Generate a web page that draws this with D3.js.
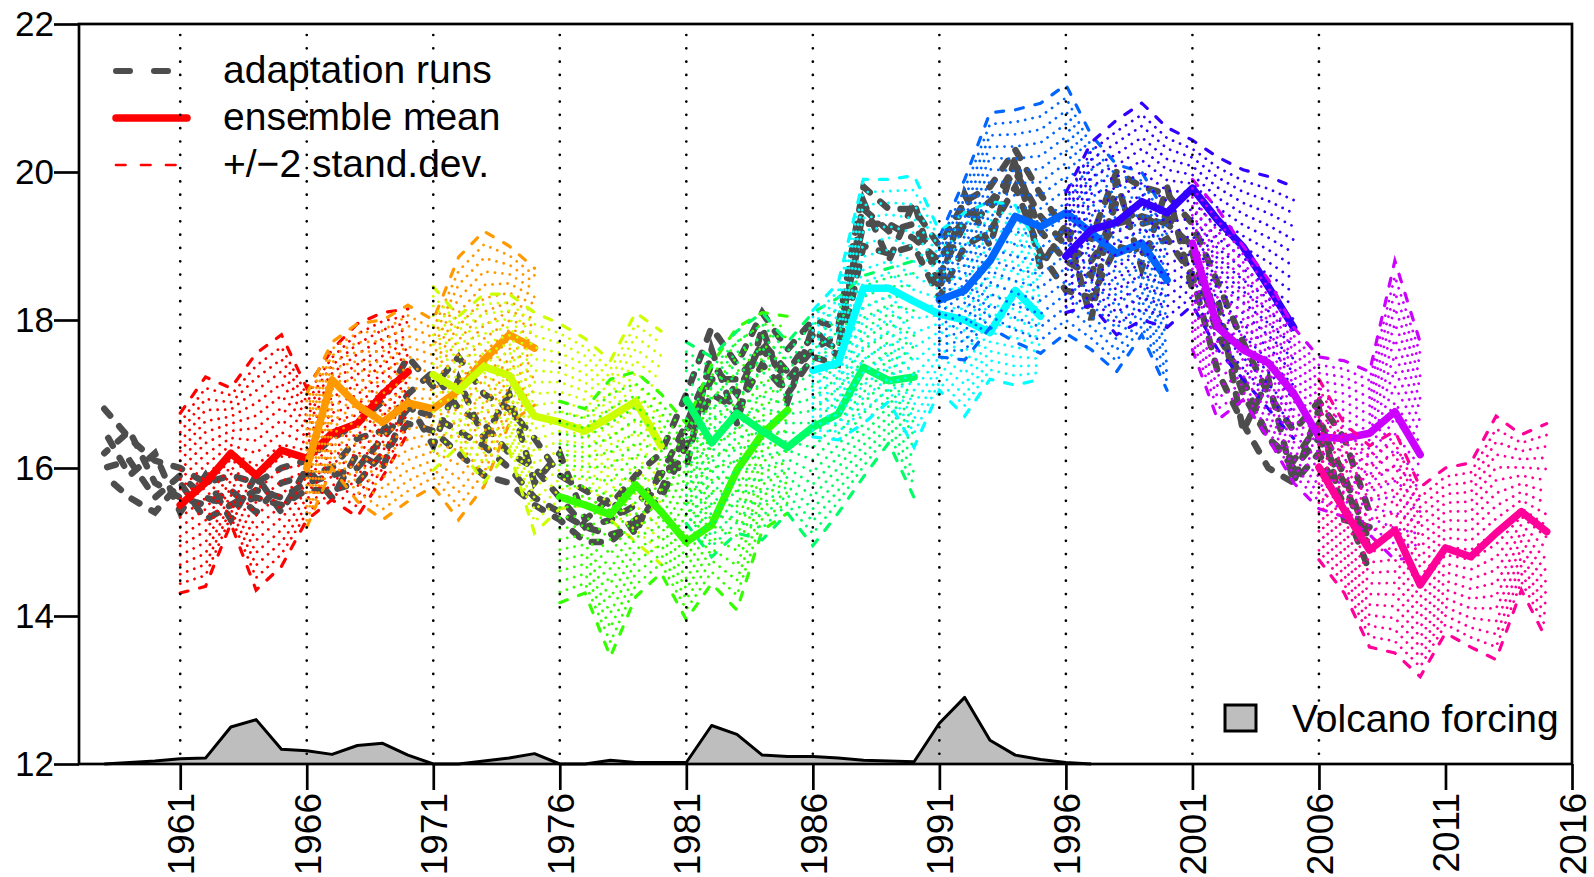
<!DOCTYPE html>
<html>
<head>
<meta charset="utf-8">
<script src="https://cdn.jsdelivr.net/npm/d3@7"></script>
<style>
  body { margin: 0; background: #fff; }
  svg text { font-family: "Liberation Sans", Arial, sans-serif; fill: #000; }
</style>
</head>
<body>
<div id="chart"></div>
<script>
// ---- data ----
const windowStarts = [1961, 1966, 1971, 1976, 1981, 1986, 1991, 1996, 2001, 2006];
const windowColors = ["#FF0000", "#FF9900", "#CCFF00", "#33FF00", "#00FF66",
                      "#00FFFF", "#0066FF", "#3300FF", "#CC00FF", "#FF0099"];

// ensemble mean per window (10 yearly values each)
const ensMean = [
  [15.50, 15.80, 16.20, 15.90, 16.24, 16.13, 16.47, 16.60, 17.00, 17.30],
  [16.00, 17.19, 16.85, 16.62, 16.88, 16.80, 17.05, 17.46, 17.80, 17.62],
  [17.26, 17.05, 17.37, 17.25, 16.70, 16.62, 16.50, 16.69, 16.90, 16.30],
  [15.61, 15.50, 15.37, 15.77, 15.41, 15.00, 15.23, 15.97, 16.46, 16.78],
  [16.92, 16.34, 16.74, 16.50, 16.28, 16.55, 16.73, 17.36, 17.18, 17.23],
  [17.32, 17.42, 18.43, 18.43, 18.25, 18.08, 18.00, 17.83, 18.40, 18.05],
  [18.27, 18.40, 18.80, 19.40, 19.26, 19.45, 19.18, 18.90, 19.04, 18.54],
  [18.86, 19.22, 19.32, 19.60, 19.45, 19.78, 19.35, 18.99, 18.45, 17.90],
  [19.04, 17.90, 17.60, 17.42, 17.01, 16.42, 16.40, 16.47, 16.76, 16.18],
  [16.01, 15.43, 14.89, 15.16, 14.42, 14.92, 14.80, 15.12, 15.41, 15.14]
];
// +2 standard deviations
const sdUpper = [
  [16.74, 17.23, 17.08, 17.55, 17.80, 17.08, 17.60, 17.95, 18.10, 18.15],
  [17.00, 17.70, 17.95, 18.00, 18.20, 18.00, 18.85, 19.20, 19.00, 18.70],
  [18.45, 18.05, 18.35, 18.35, 18.10, 17.95, 17.75, 17.45, 18.10, 17.85],
  [16.90, 16.80, 17.20, 17.30, 17.00, 16.60, 17.40, 17.90, 18.10, 18.05],
  [17.70, 17.50, 17.85, 18.10, 17.70, 18.10, 18.30, 18.60, 18.70, 18.80],
  [18.13, 18.50, 19.90, 19.90, 19.95, 19.20, 19.45, 19.60, 19.55, 18.95],
  [19.12, 19.90, 20.80, 20.84, 20.93, 21.18, 20.50, 20.10, 20.00, 19.40],
  [19.72, 20.40, 20.70, 20.93, 20.60, 20.43, 20.20, 20.03, 19.94, 19.80],
  [19.90, 19.50, 19.00, 18.55, 17.90, 17.50, 17.45, 17.30, 18.80, 17.70],
  [17.20, 16.60, 16.30, 16.50, 15.74, 16.00, 16.07, 16.70, 16.45, 16.60]
];
// -2 standard deviations
const sdLower = [
  [14.31, 14.40, 15.25, 14.35, 14.67, 15.30, 15.57, 15.34, 15.88, 16.47],
  [15.20, 16.00, 15.55, 15.30, 15.55, 15.75, 15.30, 15.75, 16.60, 16.85],
  [15.97, 16.30, 15.80, 16.24, 15.12, 15.45, 15.50, 15.30, 15.00, 14.70],
  [14.18, 14.31, 13.45, 14.26, 14.58, 13.95, 14.44, 14.08, 15.16, 15.39],
  [15.25, 14.80, 15.12, 15.03, 15.39, 14.95, 15.39, 15.88, 16.34, 15.60],
  [16.42, 16.38, 16.60, 16.90, 16.28, 17.05, 16.70, 17.20, 17.12, 17.20],
  [17.50, 17.46, 17.90, 17.70, 17.55, 17.82, 17.60, 17.30, 17.80, 17.05],
  [18.10, 18.20, 17.80, 18.00, 17.90, 18.20, 17.60, 17.20, 16.80, 16.40],
  [17.60, 16.65, 16.92, 16.40, 15.80, 15.45, 15.34, 15.10, 14.76, 14.80],
  [14.76, 14.31, 13.58, 13.50, 13.18, 13.77, 13.58, 13.41, 14.35, 13.68]
];

// adaptation runs, yearly from 1958 to 2008
const runStart = 1958;
const run1 = [16.8, 16.4, 16.1, 16.0, 15.8, 15.9, 15.8, 16.0, 16.1, 16.4, 16.6, 16.9, 17.5, 17.1,
              17.5, 17.0, 16.8, 16.4, 15.9, 15.7, 15.5, 15.9, 16.2, 17.0, 17.9, 17.4, 18.1, 17.6,
              18.0, 17.9, 19.8, 19.5, 19.5, 19.0, 19.6, 19.8, 20.3, 19.7, 19.2, 19.1, 20.0, 19.8,
              19.7, 19.3, 18.5, 17.7, 17.0, 16.5, 16.9, 16.4, 15.4];
const run2 = [16.2, 16.5, 15.8, 15.6, 15.5, 15.7, 15.4, 15.8, 15.9, 16.0, 16.4, 16.5, 17.0, 17.3,
              16.8, 16.6, 16.2, 16.0, 15.6, 15.2, 15.3, 15.5, 15.9, 16.6, 17.4, 17.0, 17.7, 17.3,
              17.8, 17.6, 19.5, 19.2, 19.3, 18.6, 19.3, 19.5, 20.1, 19.2, 18.8, 18.6, 19.6, 19.3,
              19.4, 18.9, 17.8, 17.2, 16.4, 16.1, 16.6, 15.9, 15.0];
const run3 = [15.9, 15.6, 15.4, 15.8, 15.3, 15.5, 15.6, 15.5, 15.7, 15.7, 15.8, 16.2, 16.6, 16.5,
              16.2, 15.9, 15.8, 15.5, 15.3, 15.0, 15.0, 15.3, 15.6, 16.3, 17.0, 16.8, 17.4, 17.0,
              17.5, 17.4, 19.0, 18.9, 19.0, 18.3, 19.0, 19.2, 19.8, 18.9, 18.4, 18.3, 19.0, 18.9,
              19.1, 18.6, 17.3, 16.6, 16.0, 15.8, 16.2, 15.5, 14.6];
const run4 = [16.5, 15.9, 16.2, 15.4, 15.9, 15.3, 15.9, 15.4, 16.0, 15.6, 16.2, 16.0, 16.9, 16.3,
              17.2, 16.4, 17.0, 15.8, 16.2, 15.3, 15.6, 15.1, 16.0, 16.0, 17.6, 16.6, 17.9, 16.9,
              17.9, 17.5, 19.6, 18.8, 19.6, 18.4, 19.7, 19.0, 20.2, 18.7, 19.3, 18.0, 19.9, 18.7,
              19.8, 18.4, 18.3, 16.5, 17.2, 15.8, 16.8, 15.3, 15.2];
const run5 = [16.0, 16.1, 15.6, 15.9, 15.6, 15.5, 15.7, 15.6, 15.8, 15.9, 16.0, 16.4, 16.8, 16.7,
              16.5, 16.3, 16.0, 15.6, 15.4, 15.2, 15.1, 15.2, 15.7, 16.5, 17.2, 17.2, 17.6, 17.2,
              17.6, 17.8, 19.3, 19.3, 19.1, 18.8, 19.4, 19.6, 20.0, 19.4, 19.0, 18.8, 19.3, 19.4,
              19.3, 19.0, 18.0, 17.0, 16.4, 16.0, 16.4, 15.8, 14.9];
const adaptationRuns = [run1, run2, run3, run4, run5];

// volcano forcing (plotted on the temperature axis), yearly from 1958
const volcanoStart = 1958;
const volcano = [12.0, 12.02, 12.04, 12.07, 12.08, 12.5, 12.6, 12.2, 12.18, 12.13, 12.25, 12.28,
                 12.12, 12.0, 12.0, 12.04, 12.08, 12.14, 12.0, 12.0, 12.05, 12.02, 12.02, 12.02,
                 12.52, 12.4, 12.12, 12.1, 12.1, 12.08, 12.05, 12.04, 12.03, 12.55, 12.9, 12.32,
                 12.12, 12.06, 12.02, 12.0];

const xTickYears = [1961, 1966, 1971, 1976, 1981, 1986, 1991, 1996, 2001, 2006, 2011, 2016];
const yTickValues = [12, 14, 16, 18, 20, 22];
const guideYears = [1961, 1966, 1971, 1976, 1981, 1986, 1991, 1996, 2001, 2006];

// ---- layout ----
const W = 1594, H = 877;
const plot = { left: 79, right: 1572, top: 24, bottom: 764 };

const svg = d3.select("#chart").append("svg")
    .attr("width", W)
    .attr("height", H);

const x = d3.scaleLinear().domain([1957, 2016]).range([plot.left, plot.right]);
const y = d3.scaleLinear().domain([12, 22]).range([plot.bottom, plot.top]);

const line = d3.line().x(d => x(d[0])).y(d => y(d[1]));

// volcano forcing area
const volcPts = volcano.map((v, i) => [volcanoStart + i, v]);
svg.append("path")
    .datum(volcPts)
    .attr("d", d3.area().x(d => x(d[0])).y0(y(12)).y1(d => y(d[1])))
    .attr("fill", "#bebebe");
svg.append("path")
    .datum(volcPts)
    .attr("d", line)
    .attr("fill", "none")
    .attr("stroke", "#000")
    .attr("stroke-width", 3)
    .attr("stroke-linejoin", "round");

// adaptation runs
adaptationRuns.forEach((run, r) => {
    svg.append("path")
        .datum(run.map((v, i) => [runStart + i, v]))
        .attr("d", line)
        .attr("fill", "none")
        .attr("stroke", "#4d4d4d")
        .attr("stroke-width", 6.5)
        .attr("stroke-linecap", "round")
        .attr("stroke-dasharray", "9,14")
        .attr("stroke-dashoffset", r * 5);
});

// windows: hatched +/-2 sd band, dashed bounds, ensemble mean
const nHatch = 19;
windowStarts.forEach((start, w) => {
    const col = windowColors[w];
    const yrs = d3.range(10).map(i => start + i);
    const hi = sdUpper[w], lo = sdLower[w];
    const g = svg.append("g");

    for (let k = 1; k < nHatch; k++) {
        const f = k / nHatch;
        g.append("path")
            .datum(yrs.map((yr, j) => [yr, lo[j] + (hi[j] - lo[j]) * f]))
            .attr("d", line)
            .attr("fill", "none")
            .attr("stroke", col)
            .attr("stroke-width", 2.8)
            .attr("stroke-linecap", "round")
            .attr("stroke-dasharray", "0.01,7.5");
    }
    [hi, lo].forEach(b => {
        g.append("path")
            .datum(yrs.map((yr, j) => [yr, b[j]]))
            .attr("d", line)
            .attr("fill", "none")
            .attr("stroke", col)
            .attr("stroke-width", 3.2)
            .attr("stroke-linecap", "round")
            .attr("stroke-dasharray", "8,12");
    });
    g.append("path")
        .datum(yrs.map((yr, j) => [yr, ensMean[w][j]]))
        .attr("d", line)
        .attr("fill", "none")
        .attr("stroke", col)
        .attr("stroke-width", 7.5)
        .attr("stroke-linejoin", "round")
        .attr("stroke-linecap", "round");
});

// legend (top left)
const legendRows = [
    { label: "adaptation runs", color: "#4d4d4d", width: 6, dash: "14,24" },
    { label: "ensemble mean", color: "#FF0000", width: 7.5, dash: null },
    { label: "+/\u22122 stand.dev.", color: "#FF0000", width: 2.7, dash: "9.5,15.5" }
];
legendRows.forEach((r, i) => {
    const ly = 71 + i * 47;
    const ln = svg.append("line")
        .attr("x1", 116).attr("x2", 187)
        .attr("y1", ly).attr("y2", ly)
        .attr("stroke", r.color)
        .attr("stroke-width", r.width)
        .attr("stroke-linecap", "round");
    if (r.dash) ln.attr("stroke-dasharray", r.dash);
    svg.append("text")
        .attr("x", 223)
        .attr("y", ly + 12)
        .attr("font-size", 39)
        .text(r.label);
});

// legend (bottom right)
svg.append("rect")
    .attr("x", 1225).attr("y", 705)
    .attr("width", 31).attr("height", 26)
    .attr("fill", "#bebebe")
    .attr("stroke", "#000")
    .attr("stroke-width", 3);
svg.append("text")
    .attr("x", 1292)
    .attr("y", 732)
    .attr("font-size", 39)
    .text("Volcano forcing");

// dotted guide lines at window starts
svg.selectAll(".guide")
    .data(guideYears)
    .enter()
    .append("line")
    .attr("x1", d => x(d)).attr("x2", d => x(d))
    .attr("y1", 35).attr("y2", plot.bottom)
    .attr("stroke", "#000")
    .attr("stroke-width", 2.7)
    .attr("stroke-linecap", "round")
    .attr("stroke-dasharray", "0.01,13.3");

// axes
const yAxis = svg.append("g")
    .attr("transform", "translate(" + plot.left + ",0)")
    .call(d3.axisLeft(y).tickValues(yTickValues).tickSize(25).tickSizeOuter(0).tickPadding(0));
yAxis.selectAll("text")
    .attr("font-size", 35)
    .attr("font-family", "Liberation Sans, Arial, sans-serif")
    .attr("fill", "#000");

const xAxis = svg.append("g")
    .attr("transform", "translate(0," + plot.bottom + ")")
    .call(d3.axisBottom(x).tickValues(xTickYears).tickFormat(d3.format("d")).tickSize(26).tickSizeOuter(0));
xAxis.selectAll("text")
    .attr("font-size", 37)
    .attr("font-family", "Liberation Sans, Arial, sans-serif")
    .attr("fill", "#000")
    .attr("transform", "rotate(-90)")
    .attr("x", -29)
    .attr("y", 0)
    .attr("dy", "0.36em")
    .attr("text-anchor", "end");

[yAxis, xAxis].forEach(a => {
    a.select(".domain").remove();
    a.selectAll("line").attr("stroke", "#000").attr("stroke-width", 2.7);
});

// plot box
svg.append("rect")
    .attr("x", plot.left).attr("y", plot.top)
    .attr("width", plot.right - plot.left)
    .attr("height", plot.bottom - plot.top)
    .attr("fill", "none")
    .attr("stroke", "#000")
    .attr("stroke-width", 2.7);
</script>
</body>
</html>
